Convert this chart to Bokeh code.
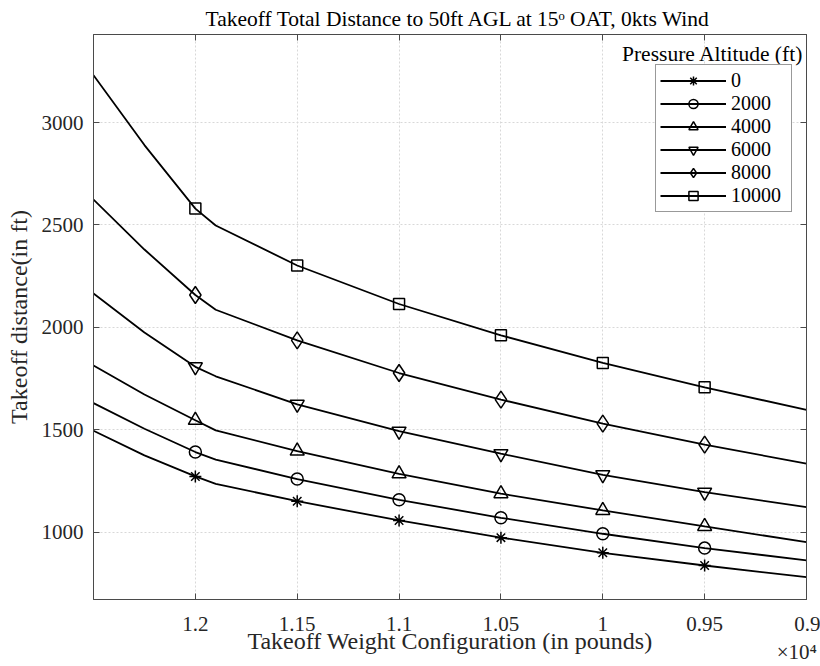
from bokeh.plotting import figure
from bokeh.models import Range1d, LinearAxis, FixedTicker, Legend, LegendItem, Label
from bokeh.embed import file_html
from bokeh.resources import INLINE

# ---------------- data ----------------
altitudes = ["0", "2000", "4000", "6000", "8000", "10000"]
weights_line = [12500, 12250, 12000, 11900, 11500, 11000, 10500, 10000, 9500, 9000]
weights_marker = [12000, 11500, 11000, 10500, 10000, 9500]

dist_0 = [1495, 1375, 1272, 1236, 1151, 1057, 973, 899, 837, 780]
dist_2000 = [1630, 1505, 1391, 1354, 1259, 1158, 1070, 992, 922, 862]
dist_4000 = [1814, 1672, 1546, 1497, 1396, 1285, 1188, 1106, 1028, 951]
dist_6000 = [2165, 1975, 1807, 1761, 1624, 1493, 1383, 1280, 1195, 1122]
dist_8000 = [2624, 2380, 2158, 2086, 1936, 1777, 1647, 1530, 1427, 1335]
dist_10000 = [3231, 2890, 2580, 2497, 2302, 2114, 1961, 1826, 1707, 1597]
series = [dist_0, dist_2000, dist_4000, dist_6000, dist_8000, dist_10000]

marker_types = ["asterisk", "circle", "triangle", "inverted_triangle", "diamond", "square"]
marker_sizes = [12, 12, 14, 14, 17, 11]

x_ticks = [12000, 11500, 11000, 10500, 10000, 9500, 9000]
x_tick_labels = ["1.2", "1.15", "1.1", "1.05", "1", "0.95", "0.9"]
x_exponent = "\u00d710\u2074"
y_ticks = [1000, 1500, 2000, 2500, 3000]

title_text = "Takeoff Total Distance to 50ft AGL at 15\u1d52 OAT, 0kts Wind"
legend_title = "Pressure Altitude (ft)"

# ---------------- layout ----------------
W, H = 820, 666
L, R, T, B = 93, 806, 34, 599
X0, X1 = 12500, 9000
Y0, Y1 = 671, 3430
FONT = "Liberation Serif"
AX = "#4a4a4a"
TXT = "#262626"


def dx(px):
    return X0 + (px - L) * (X1 - X0) / (R - L)


def dy(py):
    return Y0 + (B - py) * (Y1 - Y0) / (B - T)


p = figure(width=W, height=H, output_backend="svg", toolbar_location=None,
           x_range=Range1d(X0, X1), y_range=Range1d(Y0, Y1),
           min_border_left=L, min_border_right=W - R,
           min_border_top=T, min_border_bottom=H - B,
           background_fill_color="white", border_fill_color="white")

p.title.text = title_text
p.title.text_font = FONT
p.title.text_font_size = "21.5px"
p.title.text_font_style = "normal"
p.title.text_color = "black"
p.title.align = "left"
p.title.vertical_align = "top"
p.title.offset = 205 - L
p.title.standoff = 4

p.outline_line_color = AX
p.outline_line_width = 1

labels_map = {t: s for t, s in zip(x_ticks, x_tick_labels)}
# exponent printed under the last tick label, as MATLAB does
labels_map[x_ticks[-1]] = "\u00a0" * 4 + labels_map[x_ticks[-1]] + "\n" + x_exponent

for ax in p.xaxis:
    ax.ticker = FixedTicker(ticks=x_ticks)
    ax.major_label_overrides = labels_map
for ax in p.yaxis:
    ax.ticker = FixedTicker(ticks=y_ticks)

p.xaxis.axis_label = "Takeoff Weight Configuration (in pounds)"
p.yaxis.axis_label = "Takeoff distance(in ft)"

for ax in list(p.xaxis) + list(p.yaxis):
    ax.axis_line_color = AX
    ax.major_tick_line_color = AX
    ax.major_tick_in = 6
    ax.major_tick_out = 0
    ax.minor_tick_line_color = None
    ax.major_label_text_font = FONT
    ax.major_label_text_font_size = "21px"
    ax.major_label_text_color = TXT
    ax.axis_label_text_font = FONT
    ax.axis_label_text_font_size = "24px"
    ax.axis_label_text_font_style = "normal"
    ax.axis_label_text_color = TXT

p.xaxis.major_label_text_align = "center"
p.xaxis.major_label_standoff = 12
p.xaxis.axis_label_standoff = -39
p.yaxis.major_label_standoff = 10
p.yaxis.axis_label_standoff = 7

# mirrored ticks on top and right (box on)
for side, ticks in (("above", x_ticks), ("right", y_ticks)):
    mirror = LinearAxis(ticker=FixedTicker(ticks=ticks), major_label_text_font_size="1px",
                        major_label_text_color=None, axis_line_color=AX,
                        major_tick_line_color=AX, major_tick_in=6, major_tick_out=0,
                        minor_tick_line_color=None, major_label_standoff=0)
    p.add_layout(mirror, side)

p.xgrid.ticker = FixedTicker(ticks=x_ticks)
p.ygrid.ticker = FixedTicker(ticks=y_ticks)
p.grid.grid_line_color = "#d8d8d8"
p.grid.grid_line_dash = "2 2"
p.grid.grid_line_width = 1

items = []
for name, ys, mk, ms in zip(altitudes, series, marker_types, marker_sizes):
    lr = p.line(weights_line, ys, line_color="black", line_width=1.8)
    lookup = dict(zip(weights_line, ys))
    my = [lookup[w] for w in weights_marker]
    sr = p.scatter(weights_marker, my, marker=mk, size=ms, line_color="black",
                   line_width=1.5, fill_color=None)
    items.append(LegendItem(label=name, renderers=[lr, sr]))

legend = Legend(items=items, location=(655 - L, B - 212),
                border_line_color="#333333", border_line_width=1,
                background_fill_color="white", background_fill_alpha=1,
                label_text_font=FONT, label_text_font_size="20px", label_text_color="black",
                glyph_width=66, glyph_height=23, label_height=23, label_width=56,
                spacing=0, padding=4, margin=0, label_standoff=5)
p.add_layout(legend, "center")

# legend title (outside the box, as in the reference)
p.add_layout(Label(x=dx(803), y=dy(53), text=legend_title, text_align="right",
                   text_baseline="alphabetic", text_font=FONT, text_font_size="21.5px",
                   text_color="black"))

open("out.html", "w").write(file_html(p, INLINE))
